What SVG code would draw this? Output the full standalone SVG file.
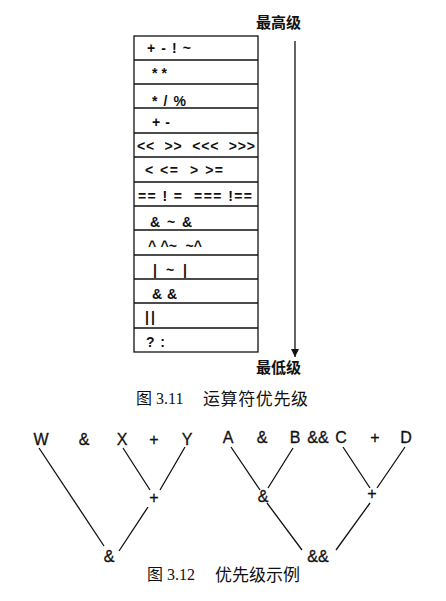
<svg xmlns="http://www.w3.org/2000/svg" width="446" height="601" viewBox="0 0 446 601">
<defs>
<marker id="ah" viewBox="0 0 10 10" refX="10" refY="5" markerWidth="8" markerHeight="10" markerUnits="userSpaceOnUse" orient="auto"><path d="M0,0 L10,5 L0,10 z" fill="#111"/></marker>
</defs>
<style>
.op{font-family:"Liberation Sans",Arial,sans-serif;font-size:14px;font-weight:bold;fill:#111;white-space:pre}
.cj{font-family:"Liberation Sans","Noto Sans CJK SC",sans-serif;font-size:15px;font-weight:bold;fill:#111}
.cap{font-family:"Liberation Serif","Noto Sans CJK SC",serif;font-size:16px;fill:#111}
.capc{font-family:"Noto Sans CJK SC",serif;font-size:17px;fill:#111}
.t{font-family:"Liberation Sans",Arial,sans-serif;font-size:16px;fill:#111;stroke:#111;stroke-width:0.3}
.ln{stroke:#111;stroke-width:1.3;fill:none}
</style>
<rect width="446" height="601" fill="#fff"/>
<g id="table">
<rect x="134" y="36" width="124" height="316" class="ln"/>
<path class="ln" d="M134,60H258M134,84H258M134,108H258M134,133H258M134,157H258M134,182H258M134,206H258M134,230H258M134,255H258M134,279H258M134,303H258M134,328H258"/>
<text class="op" xml:space="preserve" x="147" y="53" textLength="44" lengthAdjust="spacing">+ - ! ~</text>
<text class="op" xml:space="preserve" x="152" y="78" textLength="15" lengthAdjust="spacing">* *</text>
<text class="op" xml:space="preserve" x="152" y="106" textLength="34" lengthAdjust="spacing">* / %</text>
<text class="op" xml:space="preserve" x="152" y="127" textLength="18" lengthAdjust="spacing">+ -</text>
<text class="op" xml:space="preserve" x="137" y="151" textLength="118" lengthAdjust="spacing">&lt;&lt;  &gt;&gt;  &lt;&lt;&lt;  &gt;&gt;&gt;</text>
<text class="op" xml:space="preserve" x="145" y="175" textLength="78" lengthAdjust="spacing">&lt; &lt;=  &gt; &gt;=</text>
<text class="op" xml:space="preserve" x="138" y="201" textLength="114" lengthAdjust="spacing">== ! =  === !==</text>
<text class="op" xml:space="preserve" x="150" y="227" textLength="42" lengthAdjust="spacing">&amp; ~ &amp;</text>
<text class="op" xml:space="preserve" x="148" y="251" textLength="54" lengthAdjust="spacing">^ ^~  ~^</text>
<text class="op" xml:space="preserve" x="153" y="275" textLength="34" lengthAdjust="spacing">| ~ |</text>
<text class="op" xml:space="preserve" x="152" y="299" textLength="25" lengthAdjust="spacing">&amp; &amp;</text>
<text class="op" xml:space="preserve" x="145" y="322" textLength="10" lengthAdjust="spacing">||</text>
<text class="op" xml:space="preserve" x="146" y="347" textLength="19" lengthAdjust="spacing">? :</text>
</g>
<g id="arrow">
<line x1="295" y1="41" x2="295" y2="357" class="ln" marker-end="url(#ah)"/>
<text class="cj" x="256" y="28">最高级</text>
<text class="cj" x="256" y="373">最低级</text>
</g>
<g id="caption1">
<text class="cap" x="136" y="404">图 3.11</text>
<text class="capc" x="203" y="405" textLength="105" lengthAdjust="spacing">运算符优先级</text>
</g>
<g id="connectors">
<path class="ln" d="M39,448L104,546M123,448L150,490M185,447L160,490M148,507L119,551"/>
<path class="ln" d="M231,447L260,490M293,448L268,488M267,503L302,550M343,447L370,488M405,447L377,488M370,503L336,550"/>
</g>
<g id="tree1">
<text class="t" x="41" y="445" text-anchor="middle">W</text>
<text class="t" x="84" y="445" text-anchor="middle">&amp;</text>
<text class="t" x="122" y="445" text-anchor="middle">X</text>
<text class="t" x="154" y="445" text-anchor="middle">+</text>
<text class="t" x="187" y="445" text-anchor="middle">Y</text>
<text class="t" x="154" y="503" text-anchor="middle">+</text>
<text class="t" x="109" y="562" text-anchor="middle">&amp;</text>
</g>
<g id="tree2">
<text class="t" x="228" y="443" text-anchor="middle">A</text>
<text class="t" x="262" y="443" text-anchor="middle">&amp;</text>
<text class="t" x="295" y="443" text-anchor="middle">B</text>
<text class="t" x="318" y="443" text-anchor="middle">&amp;&amp;</text>
<text class="t" x="341" y="443" text-anchor="middle">C</text>
<text class="t" x="375" y="443" text-anchor="middle">+</text>
<text class="t" x="406" y="443" text-anchor="middle">D</text>
<text class="t" x="263" y="502" text-anchor="middle">&amp;</text>
<text class="t" x="372" y="499" text-anchor="middle">+</text>
<text class="t" x="318" y="562" text-anchor="middle">&amp;&amp;</text>
</g>
<g id="caption2">
<text class="cap" x="147" y="580">图 3.12</text>
<text class="capc" x="215" y="581" textLength="85" lengthAdjust="spacing">优先级示例</text>
</g>
</svg>
